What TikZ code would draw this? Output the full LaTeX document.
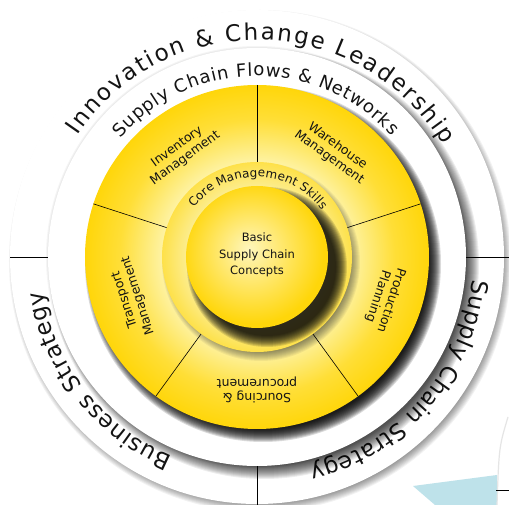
\documentclass[tikz,border=0pt]{standalone}
\usepackage{fontspec}
\setmainfont{DejaVu Sans}
\usetikzlibrary{decorations.text}
\definecolor{gold}{RGB}{255,214,10}
\definecolor{pale}{RGB}{254,242,160}
\definecolor{ringpale}{RGB}{252,238,150}
\definecolor{skyblue}{RGB}{190,226,234}
\definecolor{ink}{RGB}{20,20,20}
\pgfdeclareradialshading{discshade}{\pgfpoint{0bp}{0bp}}{color(0bp)=(pale); color(14bp)=(pale); color(20bp)=(gold!70!pale); color(25bp)=(gold); color(50bp)=(gold)}
\pgfdeclareradialshading{coreshade}{\pgfpoint{-3bp}{3bp}}{color(0bp)=(pale!70!white); color(25bp)=(gold); color(50bp)=(gold)}
\pgfdeclareradialshading{skillshade}{\pgfpoint{0bp}{0bp}}{color(0bp)=(ringpale); color(18bp)=(ringpale); color(25bp)=(gold!55!ringpale); color(50bp)=(gold)}
\def\softshadow(#1)(#2:#3:#4){\foreach \k in {1,...,#3} \fill[black, opacity=#4] (#1) circle ({#2+#3/2-\k});}
\newcommand\outerfont{\fontsize{23}{23}\selectfont}
\newcommand\flowfont{\fontsize{18}{18}\selectfont}
\newcommand\skillfont{\fontsize{12}{12}\selectfont}

\begin{document}
\begin{tikzpicture}[x=1pt, y=1pt,
	ringtext/.style={decorate, decoration={text along path, text align=fit to path, text color=ink}},
	seclabel/.style={align=center, text=ink, font=\fontsize{12.5}{14}\selectfont, inner sep=0pt},
	divider/.style={line width=0.8pt, color=black}]
		%%%%% START %%%%%
		\fill[white] (-257, -248) rectangle (252, 257);
		\useasboundingbox (-257, -248) rectangle (252, 257);
		
		% corner piece behind the wheel
		\fill[skyblue] (156, -229) -- (240, -218) -- (240, -248) -- (178, -248) -- cycle;
		\draw[black!10, line width=1.2pt] (251, -160) .. controls (242, -190) .. (240, -248);
		\draw[divider] (239, -233) -- (252, -233);
		
		% outer ring
		\softshadow(3, -4)(247:10:0.05)
		\fill[white] (0, 0) circle (247);
		\draw[divider] (180:200) -- (180:247);
		\draw[divider] (0:200) -- (0:252);
		\draw[divider] (270:200) -- (270:252);
		\path[ringtext, decoration={text={|\outerfont|Innovation {\&} Change Leadership}}] (146:217) arc[start angle=146, end angle=31, radius=217];
		\path[ringtext, decoration={text={|\outerfont|Business Strategy}}] (247:217) arc[start angle=247, end angle=189, radius=217];
		\path[ringtext, decoration={text={|\outerfont|Supply Chain Strategy}}] (-6:217) arc[start angle=-6, end angle=-76, radius=217];
		
		% flows ring
		\softshadow(0, 0)(209:6:0.04)
		\softshadow(7, -7)(209:14:0.07)
		\fill[white] (0, 0) circle (209);
		\path[ringtext, decoration={text={|\flowfont|Supply Chain Flows {\&} Networks}}] (139:181) arc[start angle=139, end angle=42, radius=181];
		
		% yellow disc with five sectors
		\softshadow(6, -7)(172:14:0.14)
		\shade[shading=discshade] (0, 0) circle (172);
		\foreach \a in {18, 90, 162, 234, 306}
			\draw[line width=0.6pt] (\a:90) -- (\a:172);
		\node[seclabel, rotate=36] (inventory) at (126:129) {Inventory\\Management};
		\node[seclabel, rotate=-36] (warehouse) at (54:130) {Warehouse\\Management};
		\node[seclabel, rotate=-108] (production) at (342:134) {Production\\Planning};
		\node[seclabel, rotate=180] (sourcing) at (270:133) {Sourcing \&\\procurement};
		\node[seclabel, rotate=108] (transport) at (198:132) {Transport\\Management};
		
		% core management ring
		\softshadow(4, -5)(95:10:0.05)
		\shade[shading=skillshade] (0, 0) circle (95);
		\path[ringtext, decoration={text={|\skillfont|Core Management Skills}}] (142:80) arc[start angle=142, end angle=36, radius=80];
		
		% basic concepts
		\softshadow(10, -10)(75:12:0.13)
		\shade[shading=coreshade] (0, 0) circle (71);
		\node[align=center, text=ink, font=\fontsize{11.5}{16.7}\selectfont] (basics) at (0, 2) {Basic\\Supply Chain\\Concepts};
		
		%%%%% END %%%%%
	\end{tikzpicture}
\end{document}
